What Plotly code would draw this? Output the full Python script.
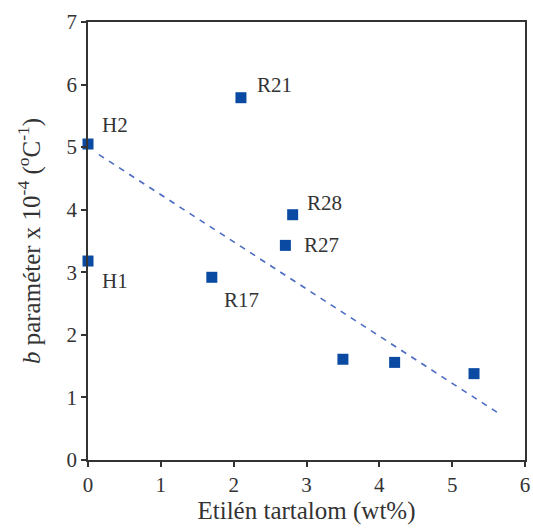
import plotly.graph_objects as go

# Data
ethylene = [0.0, 0.0, 2.1, 2.81, 2.71, 1.70, 3.50, 4.21, 5.30]
b_param = [5.05, 3.18, 5.79, 3.92, 3.43, 2.92, 1.61, 1.56, 1.38]

label_text = ["H2", "H1", "R21", "R28", "R27", "R17"]
label_x = [0.17, 0.17, 2.29, 2.98, 2.94, 1.84]
label_y = [5.35, 2.86, 5.99, 4.10, 3.43, 2.56]

trend_x = [0.15, 5.62]
trend_y = [4.88, 0.76]

x_ticks = [0, 1, 2, 3, 4, 5, 6]
y_ticks = [0, 1, 2, 3, 4, 5, 6, 7]

font_family = "Liberation Serif, Times New Roman, serif"
axis_color = "#333333"

fig = go.Figure()
fig.add_trace(go.Scatter(
    x=trend_x, y=trend_y, mode="lines",
    line=dict(color="#4a6cc2", width=1.6, dash="6px,6px"),
    showlegend=False, hoverinfo="skip"))
fig.add_trace(go.Scatter(
    x=ethylene, y=b_param, mode="markers",
    marker=dict(symbol="square", size=11, color="#0b4aa2", line=dict(width=0)),
    showlegend=False, cliponaxis=False))

for t, x, y in zip(label_text, label_x, label_y):
    fig.add_annotation(x=x, y=y, text=t, showarrow=False, xanchor="left", yanchor="middle",
                       font=dict(family=font_family, size=21, color="#333333"))

axis_common = dict(
    showline=True, linecolor=axis_color, linewidth=1.8, mirror=True,
    ticks="outside", ticklen=5, tickwidth=1.5, tickcolor=axis_color,
    showgrid=False, zeroline=False, automargin=False,
    tickfont=dict(family=font_family, size=21, color="#333333"),
)

fig.update_layout(
    width=533, height=529,
    margin=dict(l=88, r=8, t=22, b=69),
    plot_bgcolor="white", paper_bgcolor="white",
    xaxis=dict(range=[0, 6], tickvals=x_ticks, **axis_common,
               title=dict(text="Etilén tartalom (wt%)", standoff=5,
                          font=dict(family=font_family, size=25, color="#333333"))),
    yaxis=dict(range=[0, 7], tickvals=y_ticks, **axis_common,
               title=dict(text="<i>b</i> paraméter x 10<sup>-4</sup> (<sup>o</sup>C<sup>-1</sup>)", standoff=19,
                          font=dict(family=font_family, size=25, color="#333333"))),
)

fig.write_html("out.html", config={"displayModeBar": False},
               post_script="document.body.style.margin='0';document.body.style.overflow='hidden';")
